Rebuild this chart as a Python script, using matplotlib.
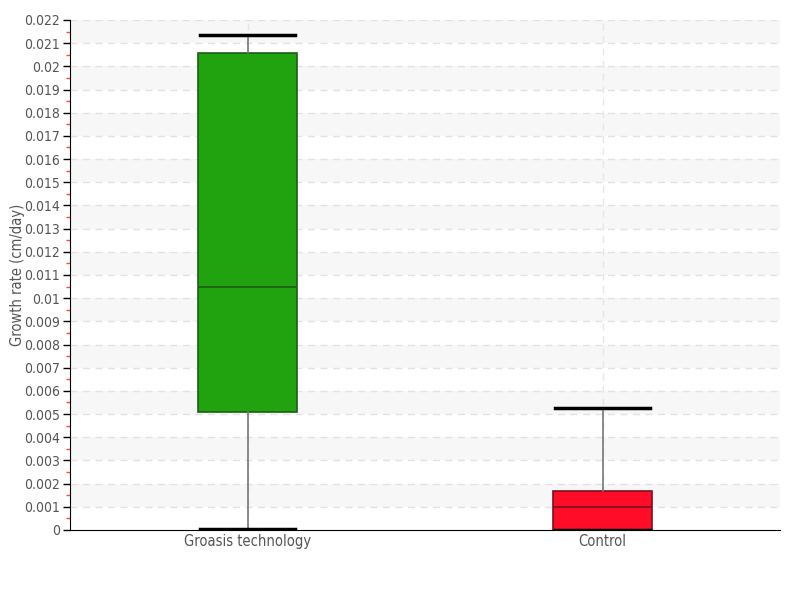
import matplotlib
matplotlib.use("Agg")
import matplotlib.pyplot as plt
import numpy as np

# box statistics (cm/day)
categories = ["Groasis technology", "Control"]
whislo = [0.00005, 0.0]
q1 = [0.0051, 0.0]
med = [0.01048, 0.00099]
q3 = [0.02058, 0.00168]
whishi = [0.02135, 0.00526]
fills = ["#21a30f", "#ff0d28"]
edges = ["#1d5e14", "#7a1020"]

yticks = np.arange(0, 0.0225, 0.001)
ytick_labels = ["0"] + [("%.3f" % v).rstrip("0") for v in yticks[1:]]

plt.rcParams["font.family"] = ["DejaVu Sans"]
plt.rcParams["font.stretch"] = "condensed"
fig = plt.figure(figsize=(8, 6), dpi=100)
ax = fig.add_axes([0.0875, 0.1167, 0.8875, 0.85])

# alternating background bands
for lo in yticks[1::2]:
    ax.axhspan(lo, lo + 0.001, color="#f7f7f7", zorder=0, lw=0)
for y in yticks[1:]:
    ax.axhline(y, color="#e2e2e2", ls=(0, (5, 4)), lw=1, zorder=0.5)

pos = [1, 2]
for p in pos:
    ax.axvline(p, color="#e6e6e6", ls=(0, (5, 4)), lw=1, zorder=0.5)

stats = [dict(whislo=whislo[i], q1=q1[i], med=med[i], q3=q3[i], whishi=whishi[i],
              fliers=[], label=categories[i]) for i in range(2)]
bp = ax.bxp(stats, positions=pos, widths=0.28, patch_artist=True, showfliers=False,
            whiskerprops=dict(color="#777777", lw=1.2),
            capprops=dict(color="black", lw=2.5), capwidths=0.27)
for i, box in enumerate(bp["boxes"]):
    box.set_facecolor(fills[i]); box.set_edgecolor(edges[i]); box.set_linewidth(1.2)
    box.set_zorder(2)
for i, m in enumerate(bp["medians"]):
    m.set_color(edges[i]); m.set_linewidth(1.2)

ax.set_xlim(0.5, 2.5)
ax.set_ylim(0, 0.022)
ax.set_yticks(yticks)
ax.set_yticklabels(ytick_labels)
ax.set_yticks(yticks[:-1] + 0.0005, minor=True)
ax.tick_params(axis="y", which="major", length=5, width=1, color="black",
               labelcolor="#555555", labelsize=10, pad=2)
ax.tick_params(axis="y", which="minor", length=3, width=1, color="#ff4444")
ax.tick_params(axis="x", length=0, labelcolor="#555555", labelsize=10.5, pad=3)
ax.set_xticks(pos)
ax.set_xticklabels(categories)
for s in ["top", "right"]:
    ax.spines[s].set_visible(False)
ax.spines["left"].set_color("black")
ax.spines["bottom"].set_color("black")
ax.set_ylabel("Growth rate (cm/day)", color="#555555", fontsize=10.5)
ax.yaxis.set_label_coords(-0.064, 0.5)

fig.savefig("out.png", dpi=100)
